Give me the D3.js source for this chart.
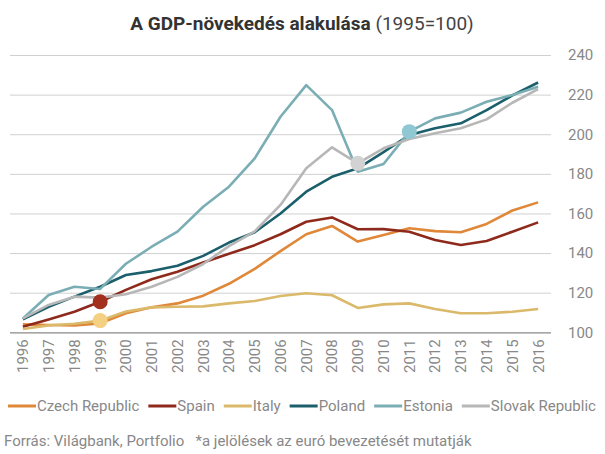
<!DOCTYPE html>
<html>
<head>
<meta charset="utf-8">
<script src="https://cdn.jsdelivr.net/npm/d3@7"></script>
<style>
  html, body { margin: 0; padding: 0; background: #fff; }
  svg { display: block; font-family: Roboto, "Noto Sans", sans-serif; }
</style>
</head>
<body>
<svg id="chart" width="605" height="454"></svg>
<script>
const years = ["1996","1997","1998","1999","2000","2001","2002","2003","2004","2005","2006","2007","2008","2009","2010","2011","2012","2013","2014","2015","2016"];
const yTicks = [100, 120, 140, 160, 180, 200, 220, 240];

const czech  = [104, 103.7, 103.4, 104.5, 109.6, 112.6, 114.6, 118.5, 124.5, 132, 141, 149.5, 153.7, 145.8, 149.1, 152.5, 151.1, 150.5, 154.7, 161.5, 165.6];
const spain  = [102.8, 106.5, 110.4, 115.4, 121.4, 126.8, 130.6, 135.2, 139.7, 144, 149.5, 155.8, 158, 152, 152.1, 150.8, 146.6, 144.1, 146.1, 150.8, 155.5];
const italy  = [101.7, 103.5, 104.3, 105.9, 110.5, 112.6, 112.9, 113.1, 114.6, 115.8, 118.3, 119.7, 118.7, 112.3, 114.1, 114.6, 111.8, 109.6, 109.6, 110.4, 111.8];
const poland = [106.5, 112.9, 118, 123, 128.9, 130.9, 133.6, 138.6, 145.3, 150.5, 160, 171, 178.5, 182.8, 191, 199.6, 203, 205.5, 212.2, 219.6, 226.1];
const estonia= [107, 118.8, 123, 121.9, 134.6, 143.2, 150.8, 163.4, 173.5, 187.8, 208.8, 224.8, 212.2, 181.1, 185, 201.3, 208, 210.9, 216.4, 219.8, 224];
const slovak = [107, 113.8, 118, 117.5, 119.2, 123, 128, 134.5, 143.5, 151, 164.3, 182.8, 193.4, 185.3, 192.9, 197.6, 200.5, 203, 207.5, 215.9, 222.8];

const seriesNames  = ["Czech Republic", "Spain", "Italy", "Poland", "Estonia", "Slovak Republic"];
const seriesValues = [czech, spain, italy, poland, estonia, slovak];
const seriesColors = ["#e0883a", "#8e2a1c", "#dbb96b", "#1a5f6b", "#7aaeb4", "#b7b7b7"];

// euro adoption markers: series index, year
const markerSeries = [1, 2, 5, 4];
const markerYears  = ["1999", "1999", "2009", "2011"];
const markerColors = ["#a3301f", "#f4d082", "#d2d2d2", "#8fc7d3"];

const svg = d3.select("#chart");

const x = d3.scaleBand().domain(years).range([10, 551]);
const y = d3.scaleLinear().domain([100, 240]).range([332.3, 55]);
const cx = d => x(d) + x.bandwidth() / 2;

// title
const title = svg.append("text")
  .attr("x", 302).attr("y", 30)
  .attr("text-anchor", "middle")
  .attr("font-size", 19)
  .attr("fill", "#333");
title.append("tspan").attr("font-weight", "bold").text("A GDP-növekedés alakulása");
title.append("tspan").attr("font-weight", "normal").attr("fill", "#444").text(" (1995=100)");

// grid
const yAxis = d3.axisRight(y).tickValues(yTicks).tickSize(541).tickPadding(17).tickFormat(d3.format("d"));
const gy = svg.append("g").attr("transform", "translate(10,0)").call(yAxis);
gy.select(".domain").remove();
gy.selectAll(".tick line").attr("stroke", d => d === 100 ? "#8a8a8a" : "#d0d0d0").attr("stroke-width", d => d === 100 ? 1.2 : 1);
gy.selectAll(".tick text").attr("fill", "#888").attr("font-size", 15).attr("font-family", "Roboto, sans-serif");

// x labels
const xAxis = d3.axisBottom(x).tickSize(0).tickPadding(0);
const gx = svg.append("g").attr("transform", "translate(0,332.3)").call(xAxis);
gx.select(".domain").remove();
gx.selectAll(".tick text")
  .attr("fill", "#888").attr("font-size", 15).attr("font-family", "Roboto, sans-serif")
  .attr("text-anchor", "end")
  .attr("transform", "rotate(-90)")
  .attr("x", -7).attr("y", 0).attr("dy", "0.36em");

// lines
const line = d3.line().x((d, i) => cx(years[i])).y(d => y(d));
seriesValues.forEach((vals, k) => {
  svg.append("path")
    .datum(vals)
    .attr("d", line)
    .attr("fill", "none")
    .attr("stroke", seriesColors[k])
    .attr("stroke-width", 2.6)
    .attr("stroke-linejoin", "round");
});

// markers
markerSeries.forEach((s, k) => {
  const yi = years.indexOf(markerYears[k]);
  svg.append("circle")
    .attr("cx", cx(markerYears[k]))
    .attr("cy", y(seriesValues[s][yi]))
    .attr("r", 7.5)
    .attr("fill", markerColors[k]);
});

// legend
let lx = 8;
const ly = 406;
seriesNames.forEach((name, k) => {
  svg.append("line")
    .attr("x1", lx).attr("x2", lx + 28)
    .attr("y1", ly).attr("y2", ly)
    .attr("stroke", seriesColors[k]).attr("stroke-width", 3);
  const t = svg.append("text")
    .attr("x", lx + 29).attr("y", ly).attr("dy", "0.35em")
    .attr("font-size", 15).attr("fill", "#888")
    .text(name);
  lx += 29 + t.node().getComputedTextLength() + 9;
});

// source
svg.append("text")
  .attr("x", 4).attr("y", 446)
  .attr("font-size", 15).attr("fill", "#888")
  .attr("xml:space", "preserve")
  .style("white-space", "pre")
  .text("Forrás: Világbank, Portfolio   *a jelölések az euró bevezetését mutatják");
</script>
</body>
</html>
